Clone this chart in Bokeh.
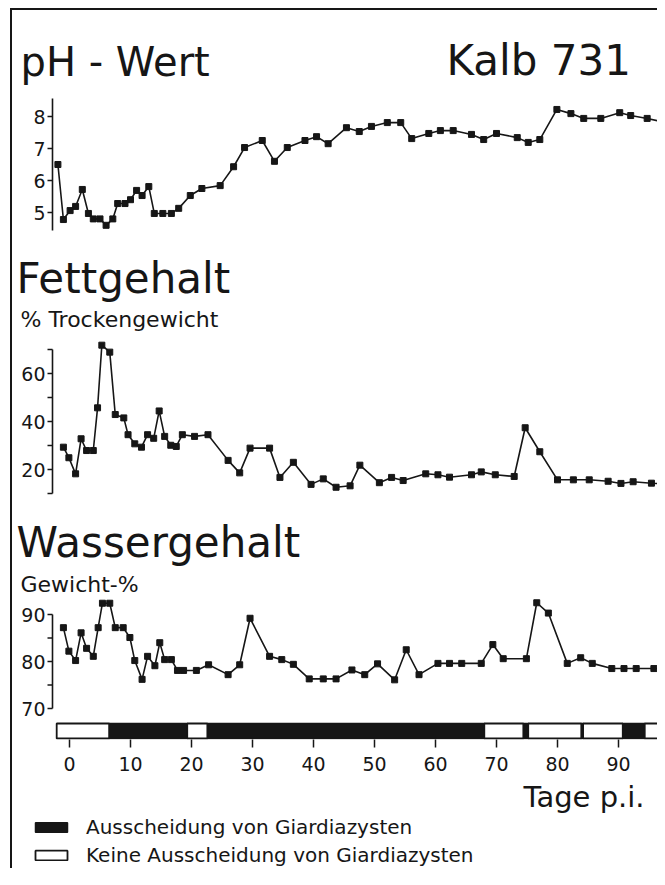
from bokeh.plotting import figure
from bokeh.layouts import column
from bokeh.models import Range1d, FixedTicker, Legend, LegendItem
from bokeh.core.properties import value
from bokeh.embed import file_html
from bokeh.resources import INLINE

# ---------------- data ----------------
ph_days = [-1.9, -1.0, 0.1, 1.0, 2.1, 3.1, 3.9, 5.0, 6.0, 7.1, 7.9, 9.1, 10.0, 11.0,
           11.9, 13.0, 13.9, 15.3, 16.7, 17.9, 19.8, 21.7, 24.7, 26.9, 28.7, 31.6,
           33.6, 35.7, 38.6, 40.5, 42.4, 45.4, 47.5, 49.5, 52.1, 54.3, 56.1, 58.9,
           60.8, 62.9, 65.9, 67.9, 70.0, 73.4, 75.2, 77.1, 79.9, 82.2, 84.3, 87.1,
           90.2, 92.0, 94.7, 97.0]
ph_values = [6.5, 4.78, 5.06, 5.19, 5.72, 4.97, 4.8, 4.8, 4.6, 4.8, 5.28, 5.28, 5.4,
             5.69, 5.53, 5.81, 4.97, 4.97, 4.97, 5.13, 5.53, 5.75, 5.84, 6.43, 7.03,
             7.25, 6.6, 7.03, 7.25, 7.37, 7.15, 7.65, 7.53, 7.69, 7.81, 7.81, 7.31,
             7.47, 7.56, 7.56, 7.44, 7.28, 7.47, 7.34, 7.19, 7.28, 8.22, 8.09, 7.94,
             7.94, 8.12, 8.03, 7.94, 7.84]

fett_days = [-1.0, -0.1, 1.0, 1.9, 2.8, 3.9, 4.6, 5.3, 6.6, 7.5, 8.9, 9.6, 10.7, 11.8,
             12.8, 13.8, 14.7, 15.6, 16.6, 17.5, 18.5, 20.5, 22.7, 26.0, 27.9, 29.6,
             32.8, 34.5, 36.7, 39.6, 41.6, 43.7, 46.0, 47.6, 50.8, 52.8, 54.7, 58.4,
             60.4, 62.3, 65.9, 67.5, 69.8, 72.9, 74.7, 77.1, 80.0, 82.6, 85.2, 88.3,
             90.4, 92.4, 95.4, 97.2]
fett_values = [29.3, 24.9, 18.2, 32.8, 27.9, 27.9, 45.7, 71.8, 68.9, 42.9, 41.5, 34.5,
               30.7, 29.3, 34.5, 33.0, 44.4, 33.8, 30.1, 29.6, 34.5, 33.8, 34.5, 23.8,
               18.6, 28.9, 28.9, 16.7, 23.0, 13.8, 16.1, 12.6, 13.2, 21.8, 14.5, 16.7,
               15.4, 18.2, 17.8, 16.8, 17.8, 19.0, 17.8, 17.1, 37.4, 27.4, 15.7, 15.7,
               15.7, 15.1, 14.2, 14.9, 14.3, 14.0]

wasser_days = [-1.0, -0.1, 1.0, 1.9, 2.8, 3.9, 4.7, 5.4, 6.6, 7.5, 8.8, 9.9, 10.7, 11.9,
               12.8, 14.0, 14.8, 15.6, 16.7, 17.7, 18.7, 20.8, 22.8, 26.0, 27.9, 29.6,
               32.8, 34.8, 36.7, 39.3, 41.6, 43.7, 46.3, 48.4, 50.5, 53.3, 55.2, 57.3,
               60.4, 62.3, 64.3, 67.5, 69.4, 71.1, 74.9, 76.6, 78.5, 81.6, 83.8, 85.7,
               88.9, 90.9, 92.9, 95.8, 97.3]
wasser_values = [87.2, 82.2, 80.2, 86.1, 82.8, 81.1, 87.2, 92.4, 92.4, 87.2, 87.2, 85.1,
                 80.2, 76.2, 81.1, 79.1, 84.0, 80.4, 80.4, 78.1, 78.1, 78.1, 79.3, 77.2,
                 79.3, 89.2, 81.1, 80.4, 79.4, 76.3, 76.3, 76.3, 78.2, 77.2, 79.5, 76.1,
                 82.5, 77.2, 79.6, 79.6, 79.6, 79.6, 83.6, 80.6, 80.6, 92.5, 90.3, 79.6,
                 80.8, 79.6, 78.5, 78.5, 78.5, 78.5, 78.5]

# shedding of Giardia cysts (1 = shedding, 0 = none)
seg_start = [-2.1, 6.5, 19.3, 22.6, 68.0, 74.4, 75.2, 83.9, 84.2, 90.7, 94.3]
seg_end = [6.5, 19.3, 22.6, 68.0, 74.4, 75.2, 83.9, 84.2, 90.7, 94.3, 100.0]
seg_cysts = [0, 1, 0, 1, 0, 1, 0, 1, 0, 1, 0]

x_ticks = [0, 10, 20, 30, 40, 50, 60, 70, 80, 90]
ph_ticks = [5, 6, 7, 8]
ph_minor = []
ph_axis = (4.44, 8.56)
fett_ticks = [20, 40, 60]
fett_minor = [10, 30, 50, 70]
fett_axis = (10, 70)
wasser_ticks = [70, 80, 90]
wasser_minor = [75, 85]
wasser_axis = (70, 90)

title_ph = "pH - Wert"
title_calf = "Kalb 731"
title_fett = "Fettgehalt"
sub_fett = "% Trockengewicht"
title_wasser = "Wassergehalt"
sub_wasser = "Gewicht-%"
x_label = "Tage p.i."
legend_yes = "Ausscheidung von Giardiazysten"
legend_no = "Keine Ausscheidung von Giardiazysten"

# ---------------- layout constants (picture pixels) ----------------
FONT = "DejaVu Sans"
INK = "#161616"
X_DAY0, PX_DAY = 69.0, 6.1          # x of day 0, pixels per day
FIG_L, FIG_W = 12, 645
F1_TOP, F1_FRAME_BOTTOM, F1_H = 10, 739, 768
F2_TOP, F2_H = 778, 90

# (anchor value, y of anchor, pixels per unit)
PH_MAP = (8, 116, 32.0)
FETT_MAP = (20, 469, 2.4)
WASSER_MAP = (70, 708, 4.7)
STRIP_MAP = (0, 738, 15.0)


def day_at(px):
    return (px - X_DAY0) / PX_DAY


def val_at(m, py):
    v, pa, k = m
    return v + (pa - py) / k


def yrange(m):
    return Range1d(val_at(m, F1_FRAME_BOTTOM), val_at(m, F1_TOP))


# ---------------- main figure (three panels + strip + x axis) ----------------
p1 = figure(width=FIG_W, height=F1_H,
            x_range=Range1d(day_at(FIG_L), day_at(FIG_L + FIG_W)),
            y_range=yrange(STRIP_MAP), y_axis_type=None,
            output_backend="svg", toolbar_location=None,
            min_border_left=0, min_border_right=0, min_border_top=0,
            min_border_bottom=F1_H - (F1_FRAME_BOTTOM - F1_TOP))
p1.extra_y_ranges = {"ph": yrange(PH_MAP), "fett": yrange(FETT_MAP),
                     "wasser": yrange(WASSER_MAP)}
p1.grid.visible = False
p1.outline_line_color = None
p1.background_fill_color = "white"
p1.border_fill_color = "white"

AX_X = day_at(52)
TICK_X = day_at(47)
LAB_X = day_at(45)


def y_axis(name, lo_hi, ticks, minor):
    lo, hi = lo_hi
    p1.segment(x0=[AX_X], y0=[lo], x1=[AX_X], y1=[hi], y_range_name=name,
               line_color=INK, line_width=1.6)
    allt = ticks + minor
    p1.segment(x0=[TICK_X] * len(allt), y0=allt, x1=[AX_X] * len(allt), y1=allt,
               y_range_name=name, line_color=INK, line_width=1.5)
    p1.text(x=[LAB_X] * len(ticks), y=ticks, text=[str(t) for t in ticks],
            y_range_name=name, text_align="right", text_baseline="middle",
            text_font=value(FONT), text_font_size="19px", text_color=INK)


def series(name, xs, ys):
    p1.line(xs, ys, y_range_name=name, line_color=INK, line_width=1.6)
    p1.scatter(xs, ys, y_range_name=name, marker="square", size=6,
               fill_color=INK, line_color=INK)


def title(name, m, px, baseline, text, size):
    # vertical centre of the text sits ~0.35 em above its baseline
    cy = baseline - 0.35 * size
    p1.text(x=[day_at(px)], y=[val_at(m, cy)], text=[text], y_range_name=name,
            text_align="left", text_baseline="middle",
            text_font=value(FONT), text_font_size=f"{size}px", text_color=INK)


# pH
title("ph", PH_MAP, 20, 75, title_ph, 40)
title("ph", PH_MAP, 446, 75, title_calf, 42)
y_axis("ph", ph_axis, ph_ticks, ph_minor)
series("ph", ph_days, ph_values)

# Fett
title("fett", FETT_MAP, 16, 293, title_fett, 42)
title("fett", FETT_MAP, 20, 327, sub_fett, 22)
y_axis("fett", fett_axis, fett_ticks, fett_minor)
series("fett", fett_days, fett_values)

# Wasser
title("wasser", WASSER_MAP, 16, 557, title_wasser, 42)
title("wasser", WASSER_MAP, 20, 592, sub_wasser, 22)
y_axis("wasser", wasser_axis, wasser_ticks, wasser_minor)
series("wasser", wasser_days, wasser_values)

# cyst shedding strip
yes_l = [s for s, c in zip(seg_start, seg_cysts) if c == 1]
yes_r = [e for e, c in zip(seg_end, seg_cysts) if c == 1]
no_l = [s for s, c in zip(seg_start, seg_cysts) if c == 0]
no_r = [e for e, c in zip(seg_end, seg_cysts) if c == 0]
p1.quad(left=yes_l, right=yes_r, top=1, bottom=0,
        fill_color=INK, line_color=INK, line_width=1.5)
p1.quad(left=no_l, right=no_r, top=1, bottom=0,
        fill_color="white", line_color=INK, line_width=1.8)

xa = p1.xaxis[0]
xa.ticker = FixedTicker(ticks=x_ticks, minor_ticks=[])
xa.axis_line_color = None
xa.major_tick_line_color = INK
xa.major_tick_line_width = 1.5
xa.major_tick_out = 8
xa.major_tick_in = 0
xa.major_label_text_font = FONT
xa.major_label_text_font_size = "19px"
xa.major_label_text_color = INK
xa.major_label_standoff = 9

# ---------------- lower figure: axis title + legend ----------------
p2 = figure(width=FIG_W, height=F2_H,
            x_range=Range1d(day_at(FIG_L), day_at(FIG_L + FIG_W)),
            y_range=Range1d(0, F2_H), x_axis_type=None, y_axis_type=None,
            output_backend="svg", toolbar_location=None,
            min_border_left=0, min_border_right=0, min_border_top=0,
            min_border_bottom=0)
p2.grid.visible = False
p2.outline_line_color = None
p2.background_fill_color = "white"
p2.border_fill_color = "white"

p2.text(x=[day_at(523)], y=[F2_TOP + F2_H - (807 - 0.35 * 29)], text=[x_label],
        text_align="left", text_baseline="middle",
        text_font=value(FONT), text_font_size="29px", text_color=INK)

# legend keys: the same shedding segments, drawn below the visible range
lg_yes = p2.quad(left=yes_l, right=yes_r, top=-20, bottom=-30,
                 fill_color=INK, line_color=INK, line_width=1.5)
lg_no = p2.quad(left=no_l, right=no_r, top=-20, bottom=-30,
                fill_color="white", line_color=INK, line_width=1.8)
legend = Legend(items=[LegendItem(label=legend_yes, renderers=[lg_yes]),
                       LegendItem(label=legend_no, renderers=[lg_no])],
                location=(19, 1), orientation="vertical",
                border_line_color=None, background_fill_alpha=0,
                padding=0, margin=0, spacing=4, label_standoff=15,
                glyph_width=40, glyph_height=12,
                label_text_font=FONT, label_text_font_size="20px",
                label_text_color=INK)
p2.add_layout(legend)

layout = column(p1, p2,
                styles={"margin-left": "10px", "margin-top": "8px",
                        "border-left": "2px solid #161616",
                        "border-top": "2px solid #161616"})

open("out.html", "w").write(file_html(layout, INLINE))
